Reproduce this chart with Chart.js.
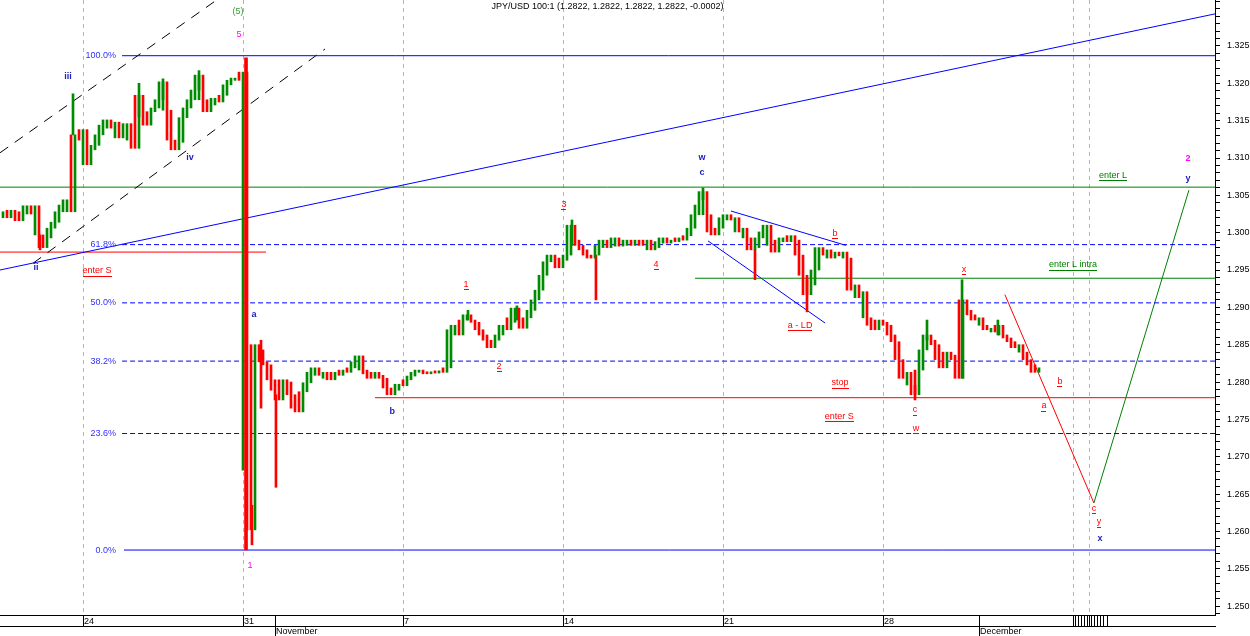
<!DOCTYPE html>
<html>
<head>
<meta charset="utf-8">
<script src="https://cdn.jsdelivr.net/npm/chart.js@4.4.1/dist/chart.umd.min.js"></script>
<style>
  html, body { margin: 0; padding: 0; background: #fff; }
  canvas { display: block; }
</style>
</head>
<body>
<canvas id="chart" width="1250" height="636"></canvas>
<script>
// x runs in trading days counted from Mon 24 Oct (0), 8 closes per day
const startDay = -2.5;
const step = 0.125;

const closes = [
  1.3028, 1.3020, 1.3030, 1.3022, 1.3016, 1.3028, 1.3036, 1.3025,
  1.3036, 1.2997, 1.2980, 1.2993, 1.3006, 1.3014, 1.3028, 1.3037,
  1.3044, 1.3028, 1.3131, 1.3124, 1.3138, 1.3091, 1.3111, 1.3117,
  1.3131, 1.3144, 1.3151, 1.3140, 1.3148, 1.3127, 1.3140, 1.3146,
  1.3124, 1.3113, 1.3184, 1.3154, 1.3144, 1.3162, 1.3167, 1.3178,
  1.3202, 1.3164, 1.3124, 1.3111, 1.3121, 1.3154, 1.3167, 1.3178,
  1.3191, 1.3211, 1.3178, 1.3162, 1.3171, 1.3180, 1.3175, 1.3184,
  1.3198, 1.3204, 1.3207, 1.3204, 1.3215, 1.2682, 1.2602, 1.2850,
  1.2843, 1.2827, 1.2823, 1.2803, 1.2789, 1.2776, 1.2803, 1.2800,
  1.2783, 1.2765, 1.2760, 1.2787, 1.2799, 1.2813, 1.2819, 1.2809,
  1.2813, 1.2805, 1.2803, 1.2813, 1.2809, 1.2816, 1.2813, 1.2819,
  1.2827, 1.2835, 1.2816, 1.2811, 1.2805, 1.2813, 1.2809, 1.2805,
  1.2792, 1.2783, 1.2789, 1.2797, 1.2795, 1.2803, 1.2808, 1.2813,
  1.2816, 1.2813, 1.2811, 1.2813, 1.2812, 1.2815, 1.2813, 1.2819,
  1.2870, 1.2876, 1.2863, 1.2883, 1.2890, 1.2883, 1.2880, 1.2870,
  1.2863, 1.2856, 1.2846, 1.2856, 1.2863, 1.2876, 1.2870, 1.2886,
  1.2899, 1.2880, 1.2872, 1.2886, 1.2896, 1.2910, 1.2923, 1.2943,
  1.2961, 1.2970, 1.2966, 1.2953, 1.2963, 1.2970, 1.3010, 1.2990,
  1.2983, 1.2977, 1.2970, 1.2966, 1.2970, 1.2983, 1.2990, 1.2980,
  1.2986, 1.2993, 1.2982, 1.2986, 1.2990, 1.2983, 1.2990, 1.2986,
  1.2983, 1.2990, 1.2977, 1.2980, 1.2988, 1.2993, 1.2986, 1.2990,
  1.2988, 1.2993, 1.2990, 1.2996, 1.3006, 1.3024, 1.3037, 1.3055,
  1.3024, 1.3001, 1.2997, 1.3006, 1.3020, 1.3024, 1.3017, 1.3020,
  1.3001, 1.3006, 1.2993, 1.2977, 1.2980, 1.2993, 1.3001, 1.3010,
  1.2983, 1.2974, 1.2990, 1.2993, 1.2988, 1.2996, 1.2990, 1.2970,
  1.2943, 1.2917, 1.2930, 1.2950, 1.2980, 1.2970, 1.2977, 1.2966,
  1.2974, 1.2969, 1.2974, 1.2966, 1.2923, 1.2930, 1.2913, 1.2921,
  1.2886, 1.2876, 1.2870, 1.2883, 1.2880, 1.2876, 1.2863, 1.2854,
  1.2830, 1.2805, 1.2813, 1.2796, 1.2783, 1.2816, 1.2843, 1.2863,
  1.2856, 1.2850, 1.2830, 1.2819, 1.2840, 1.2836, 1.2830, 1.2805,
  1.2910, 1.2896, 1.2890, 1.2883, 1.2886, 1.2876, 1.2870, 1.2872,
  1.2867, 1.2876, 1.2863, 1.2859, 1.2854, 1.2846, 1.2850, 1.2840,
  1.2830, 1.2823, 1.2813, 1.2819
];

// single spikes (from -> to, up if to > from)
const wickDay  = [-1.344, -0.3125, 1.75, 2.5, 3.625, 5.28, 5.5625, 6.03, 12.03, 13.56, 15.28, 16.03, 19.375, 21.0, 22.625, 26.0, 26.375, 27.47, 28.59];
const wickFrom = [1.2997, 1.3131, 1.3155, 1.3178, 1.3191, 1.2635, 1.2856, 1.2783, 1.2883, 1.2883, 1.2983, 1.2970, 1.3044, 1.2977, 1.2937, 1.2796, 1.2856, 1.2805, 1.2863];
const wickTo   = [1.2977, 1.3186, 1.3200, 1.3206, 1.3217, 1.2582, 1.2765, 1.2659, 1.2896, 1.2902, 1.3017, 1.2910, 1.3060, 1.2937, 1.2894, 1.2776, 1.2883, 1.2937, 1.2883];

// 31 Oct intervention bar
const interventionDay = 5.094;
const interventionRange = [1.2575, 1.3234];

const fibLevels = [1.3237, 1.2984, 1.2906, 1.2828, 1.2731, 1.2575];
const fibLabels = ['100.0%', '61.8%', '50.0%', '38.2%', '23.6%', '0.0%'];

const priceTicks = [1.250, 1.255, 1.260, 1.265, 1.270, 1.275, 1.280, 1.285, 1.290, 1.295, 1.300, 1.305, 1.310, 1.315, 1.320, 1.325];
const dayTicks = [0, 5, 10, 15, 20, 25];
const dayLabels = ['24', '31', '7', '14', '21', '28'];
const monthTicks = [6, 28];
const monthLabels = ['November', 'December'];
const futureGrid = [30.94, 31.44];

const xMin = -2.594, xMax = 35.375;
const yMin = 1.2488, yMax = 1.33116;

const UP = '#008c00', DOWN = '#ff0000', BLUE = '#0000ff', GREEN = '#008000';
const FONT = '"Liberation Sans", Arial, sans-serif';

// each bar covers the closes around it, coloured by the move from the previous close
const priceBars = closes.map((c, i) => {
  const prev = i ? closes[i - 1] : c;
  const next = i < closes.length - 1 ? closes[i + 1] : c;
  const lo = Math.min(prev, c, next), hi = Math.max(prev, c, next);
  return { x: startDay + i * step, y: [lo, hi] };
});
const priceColors = closes.map((c, i) => (i && c < closes[i - 1]) ? DOWN : UP);
const wickBars = wickDay.map((d, i) => ({ x: d, y: [wickFrom[i], wickTo[i]] }));
const wickColors = wickDay.map((d, i) => wickTo[i] > wickFrom[i] ? UP : DOWN);

function lineSet(pts, color, dash, width) {
  return {
    type: 'line', data: pts.map(p => ({ x: p[0], y: p[1] })),
    borderColor: color, backgroundColor: color, borderWidth: width || 1, borderDash: dash || [],
    pointRadius: 0, fill: false, tension: 0, order: 3
  };
}

// fibonacci levels: solid at 100% and 0%, dashed in between
const fibStarts = [1.22, 1.22, 1.22, 1.22, 1.22, 1.28];
const fibLines = fibLevels.map((v, i) => lineSet([[fibStarts[i], v], [xMax, v]], BLUE,
  (i === 0 || i === fibLevels.length - 1) ? [] : [5, 3]));

const lines = [
  ...fibLines,
  lineSet([[xMin, 1.2950], [xMax, 1.3293]], BLUE),
  lineSet([[xMin, 1.3107], [4.19, 1.3312]], '#000', [10, 8]),
  lineSet([[-1.5625, 1.2959], [7.5625, 1.3246]], '#000', [10, 8]),
  lineSet([[xMin, 1.3061], [xMax, 1.3061]], GREEN),
  lineSet([[19.125, 1.2939], [xMax, 1.2939]], GREEN),
  lineSet([[9.125, 1.2779], [xMax, 1.2779]], DOWN),
  lineSet([[xMin, 1.2974], [5.72, 1.2974]], DOWN),
  lineSet([[20.25, 1.3029], [23.84, 1.2983]], BLUE),
  lineSet([[19.53, 1.2989], [23.19, 1.2879]], BLUE),
  lineSet([[28.81, 1.2917], [31.59, 1.2638]], DOWN),
  lineSet([[31.59, 1.2638], [34.56, 1.3057]], GREEN)
];

// text, day, price, colour, style (b bold, u underline)
const notes = [
  ['(5)', 4.84, 1.3296, '#3a9a3a', ''],
  ['5', 4.875, 1.3265, '#ff00ff', ''],
  ['iii', -0.47, 1.3209, '#2020c0', 'b'],
  ['ii', -1.47, 1.2953, '#2020c0', 'b'],
  ['iv', 3.34, 1.3100, '#2020c0', 'b'],
  ['a', 5.34, 1.2890, '#2020c0', 'b'],
  ['1', 5.22, 1.2554, '#ff00ff', ''],
  ['b', 9.66, 1.2760, '#2020c0', 'b'],
  ['w', 19.34, 1.3101, '#2020c0', 'b'],
  ['c', 19.34, 1.3080, '#2020c0', 'b'],
  ['x', 31.78, 1.2591, '#2020c0', 'b'],
  ['y', 34.53, 1.3073, '#2020c0', 'b'],
  ['2', 34.53, 1.3099, '#ff00ff', 'b'],
  ['enter S', 0.44, 1.2949, DOWN, 'u'],
  ['1', 11.97, 1.2931, DOWN, 'u'],
  ['2', 13.0, 1.2821, DOWN, 'u'],
  ['3', 15.03, 1.3038, DOWN, 'u'],
  ['4', 17.91, 1.2958, DOWN, 'u'],
  ['b', 23.5, 1.2999, DOWN, 'u'],
  ['a - LD', 22.41, 1.2876, DOWN, 'u'],
  ['stop', 23.66, 1.2799, DOWN, 'u'],
  ['enter S', 23.63, 1.2754, DOWN, 'u'],
  ['c', 26.0, 1.2763, DOWN, 'u'],
  ['w', 26.03, 1.2738, DOWN, 'u'],
  ['x', 27.53, 1.2951, DOWN, 'u'],
  ['a', 30.03, 1.2768, DOWN, 'u'],
  ['b', 30.53, 1.2801, DOWN, 'u'],
  ['c', 31.59, 1.2631, DOWN, 'u'],
  ['y', 31.75, 1.2613, DOWN, 'u'],
  ['enter L', 32.19, 1.3077, GREEN, 'u'],
  ['enter L intra', 30.94, 1.2957, GREEN, 'u']
];
const titleText = 'JPY/USD 100:1 (1.2822, 1.2822, 1.2822, 1.2822, -0.0002)';

const notesPlugin = {
  id: 'notes',
  afterDatasetsDraw(chart) {
    const { ctx, chartArea, scales: { x, y } } = chart;
    ctx.save();
    ctx.textBaseline = 'middle';
    ctx.font = '9px ' + FONT;
    ctx.fillStyle = '#000';
    ctx.textAlign = 'center';
    ctx.fillText(titleText, (chartArea.left + chartArea.right) / 2, chartArea.top + 7);

    ctx.textAlign = 'right';
    ctx.fillStyle = '#3030ff';
    fibLevels.forEach((v, i) => {
      ctx.fillText(fibLabels[i], x.getPixelForValue(1.03), y.getPixelForValue(v));
    });

    ctx.textAlign = 'center';
    notes.forEach(([t, d, p, col, st]) => {
      const px = x.getPixelForValue(d), py = y.getPixelForValue(p);
      ctx.font = (st === 'b' ? 'bold ' : '') + '9px ' + FONT;
      ctx.fillStyle = col;
      ctx.fillText(t, px, py);
      if (st === 'u') {
        const w = ctx.measureText(t).width;
        ctx.strokeStyle = col;
        ctx.lineWidth = 1;
        ctx.beginPath();
        ctx.moveTo(Math.round(px - w / 2), Math.round(py + 5) + 0.5);
        ctx.lineTo(Math.round(px + w / 2), Math.round(py + 5) + 0.5);
        ctx.stroke();
      }
    });
    ctx.restore();
  }
};

function zeroPad(s) {
  s.paddingLeft = 0; s.paddingRight = 0; s.paddingTop = 0; s.paddingBottom = 0;
}

const futureMarks = [];
for (let k = 0; k < 11; k++) futureMarks.push(31.0 + k * 0.1);

new Chart(document.getElementById('chart').getContext('2d'), {
  type: 'line',
  data: {
    datasets: [
      {
        type: 'bar', data: priceBars, backgroundColor: priceColors,
        barThickness: 2, minBarLength: 2, grouped: false, borderWidth: 0, order: 1
      },
      {
        type: 'bar', data: wickBars, backgroundColor: wickColors,
        barThickness: 2, grouped: false, borderWidth: 0, order: 1
      },
      {
        type: 'bar', data: [{ x: interventionDay, y: interventionRange }], backgroundColor: DOWN,
        barThickness: 3, grouped: false, borderWidth: 0, order: 0
      },
      ...lines
    ]
  },
  options: {
    responsive: false,
    animation: false,
    devicePixelRatio: 1,
    layout: { padding: 0 },
    plugins: { legend: { display: false }, tooltip: { enabled: false } },
    scales: {
      x: {
        type: 'linear', position: 'bottom', min: xMin, max: xMax, offset: false, weight: 0,
        afterBuildTicks: s => {
          s.ticks = [...dayTicks, ...monthTicks, ...futureGrid, ...futureMarks]
            .sort((a, b) => a - b).map(v => ({ value: v }));
        },
        ticks: {
          autoSkip: false, maxRotation: 0, minRotation: 0, align: 'start',
          padding: -10, labelOffset: 1, color: '#000', font: { family: FONT, size: 9 },
          callback: v => { const i = dayTicks.indexOf(v); return i >= 0 ? dayLabels[i] : ''; }
        },
        grid: {
          offset: false, lineWidth: 1, tickLength: 11, tickColor: '#000', tickBorderDash: [],
          color: c => (c.tick && (dayTicks.includes(c.tick.value) || futureGrid.includes(c.tick.value))) ? '#b4b4b4' : 'rgba(0,0,0,0)'
        },
        border: { display: true, color: '#000', dash: [4, 4] },
        afterFit: s => { s.height = 11; zeroPad(s); }
      },
      x2: {
        type: 'linear', position: 'bottom', min: xMin, max: xMax, offset: false, weight: 1,
        afterBuildTicks: s => { s.ticks = monthTicks.map(v => ({ value: v })); },
        ticks: {
          autoSkip: false, maxRotation: 0, minRotation: 0, align: 'start',
          padding: -10, labelOffset: 1, color: '#000', font: { family: FONT, size: 9 },
          callback: v => monthLabels[monthTicks.indexOf(v)]
        },
        grid: { offset: false, drawOnChartArea: false, tickLength: 10, tickColor: '#000', color: '#000' },
        border: { display: true, color: '#000' },
        afterFit: s => { s.height = 10; zeroPad(s); }
      },
      y: {
        type: 'linear', position: 'right', min: yMin, max: yMax,
        afterBuildTicks: s => {
          const t = [];
          for (let k = 1249; k <= 1331; k++) t.push({ value: k / 1000 });
          s.ticks = t;
        },
        ticks: {
          autoSkip: false, padding: 7, color: '#000', font: { family: FONT, size: 9 },
          callback: v => priceTicks.some(p => Math.abs(p - v) < 1e-7) ? v.toFixed(3) : ''
        },
        grid: { drawOnChartArea: false, tickLength: 5, tickColor: '#000', color: '#000' },
        border: { display: true, color: '#000' },
        afterFit: s => { s.width = 35; zeroPad(s); }
      }
    }
  },
  plugins: [notesPlugin]
});
</script>
</body>
</html>
